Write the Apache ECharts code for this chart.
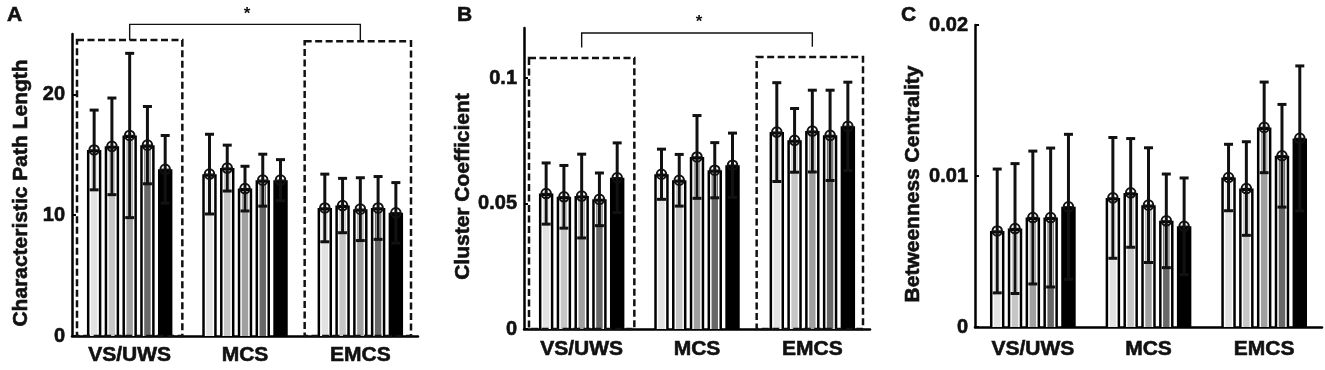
<!DOCTYPE html>
<html><head><meta charset="utf-8">
<script src="https://cdn.jsdelivr.net/npm/echarts@6/dist/echarts.min.js"></script>
<style>html,body{margin:0;padding:0;background:#fff}#c{width:1325px;height:370px}</style>
</head><body><div id="c"></div>
<script>
const categories = ['VS/UWS', 'MCS', 'EMCS'];
const barColors = ['#e2e2e2', '#c6c6c6', '#a0a0a0', '#686868', '#000000'];

// Panel A: Characteristic Path Length (one array per bar shade, values per category)
const A_mean = [[15.4, 13.4, 10.6], [15.7, 13.9, 10.8], [16.6, 12.2, 10.5], [15.8, 12.9, 10.6], [13.8, 12.9, 10.2]];
const A_sd   = [[3.3, 3.3, 2.8], [4.0, 1.9, 2.25], [6.8, 1.85, 2.6], [3.2, 2.15, 2.6], [2.8, 1.7, 2.5]];
// Panel B: Cluster Coefficient
const B_mean = [[0.054, 0.0617, 0.0785], [0.0527, 0.0593, 0.0752], [0.053, 0.0686, 0.0789], [0.0517, 0.0633, 0.0772], [0.0603, 0.0653, 0.0808]];
const B_sd   = [[0.0122, 0.010, 0.0197], [0.0125, 0.0103, 0.0127], [0.0167, 0.0165, 0.0163], [0.0105, 0.011, 0.018], [0.0139, 0.0128, 0.0176]];
// Panel C: Betweenness Centrality
const C_mean = [[0.00636, 0.00855, 0.0099], [0.00652, 0.00888, 0.00917], [0.00725, 0.00807, 0.01322], [0.00725, 0.00703, 0.01134], [0.00796, 0.00667, 0.01249]];
const C_sd   = [[0.0041, 0.0040, 0.0022], [0.0043, 0.0036, 0.0031], [0.0044, 0.0038, 0.003], [0.0046, 0.0031, 0.0034], [0.0048, 0.0032, 0.0048]];

const A_ticks = [0, 10, 20];
const B_ticks = [0, 0.05, 0.1];
const C_ticks = [0, 0.01, 0.02];

// significance annotations: [leftCat, rightCat, boxTopLeft, boxTopRight, bracketY, legBottomLeft, legBottomRight, starY]
const A_sig = [0, 2, 24.5, 24.4, 25.8, 24.5, 24.4, 26.6];
const B_sig = [0, 2, 0.108, 0.1084, 0.118, 0.1122, 0.1125, 0.1222];

const FONT = "'Liberation Sans', Arial, Helvetica, sans-serif";
const heavy = { textBorderColor: '#111', textBorderWidth: 0.6 };

const panels = [
  { grid: { left: 72, top: 34, width: 346, height: 302 }, max: 25, ticks: A_ticks, mean: A_mean, sd: A_sd, name: 'Characteristic Path Length', nameGap: 40, sig: A_sig, labelMargin: 9 },
  { grid: { left: 524, top: 28, width: 346, height: 301 }, max: 0.12, ticks: B_ticks, mean: B_mean, sd: B_sd, name: 'Cluster Coefficient', nameGap: 48, sig: B_sig, labelMargin: 10 },
  { grid: { left: 975, top: 25, width: 347, height: 302 }, max: 0.02, ticks: C_ticks, mean: C_mean, sd: C_sd, name: 'Betweenness Centrality', nameGap: 51, sig: null, labelMargin: 12 }
];

function barRenderer(k) {
  return function (params, api) {
    const cat = api.value(0), m = api.value(1), s = api.value(2);
    const band = api.size([1, 0])[0];
    const slot = band * 0.154, w = band * 0.125;
    const base = api.coord([cat, 0]);
    const cx = base[0] + (k - 2) * slot;
    const y0 = base[1];
    const yM = api.coord([cat, m])[1];
    const yLo = api.coord([cat, m - s])[1];
    const yHi = api.coord([cat, m + s])[1];
    const x0 = cx - w / 2;
    const ch = [];
    ch.push({ type: 'rect', shape: { x: x0, y: yM, width: w, height: y0 - yM }, style: { fill: '#000' } });
    ch.push({ type: 'rect', shape: { x: x0 + 2.5, y: yM + 2.5, width: w - 5, height: y0 - yM - 2.5 }, style: { fill: k === 4 ? '#000' : '#fff' } });
    ch.push({ type: 'rect', shape: { x: x0 + 4, y: yM + 4, width: w - 8, height: y0 - yM - 4 }, style: { fill: barColors[k] } });
    if (k < 4 && yLo > yM + 4) {
      ch.push({ type: 'rect', shape: { x: x0 + 5.2, y: yM + 4, width: w - 10.4, height: yLo - yM - 4 }, style: { fill: '#fff' } });
    }
    const ln = { stroke: '#111', lineWidth: 3 };
    ch.push({ type: 'line', shape: { x1: cx, y1: yHi, x2: cx, y2: yLo }, style: ln });
    ch.push({ type: 'line', shape: { x1: cx - 4.5, y1: yHi, x2: cx + 4.5, y2: yHi }, style: ln });
    ch.push({ type: 'line', shape: { x1: cx - 4.5, y1: yLo, x2: cx + 4.5, y2: yLo }, style: ln });
    ch.push({ type: 'circle', shape: { cx: cx, cy: yM, r: 4.8 }, style: { fill: 'none', stroke: '#111', lineWidth: 2 } });
    ch.push({ type: 'line', shape: { x1: cx - 4.8, y1: yM, x2: cx + 4.8, y2: yM }, style: { stroke: '#111', lineWidth: 1.4 } });
    return { type: 'group', children: ch };
  };
}

function sigRenderer(params, api) {
  const c1 = api.value(0), c2 = api.value(1);
  const band = api.size([1, 0])[0];
  const b0 = api.coord([c1, 0]), b2 = api.coord([c2, 0]);
  const t1 = api.coord([c1, api.value(2)])[1], t2 = api.coord([c2, api.value(3)])[1];
  const yb = api.coord([c1, api.value(4)])[1];
  const l1 = api.coord([c1, api.value(5)])[1], l2 = api.coord([c2, api.value(6)])[1];
  const ys = api.coord([c1, api.value(7)])[1];
  const dash = { stroke: '#111', lineWidth: 2.5, lineDash: [7, 3.5], fill: 'none' };
  const ch = [
    { type: 'rect', shape: { x: b0[0] - band / 2 + 5, y: t1, width: band - 10, height: b0[1] - t1 }, style: dash },
    { type: 'rect', shape: { x: b2[0] - band / 2 + 2, y: t2, width: band - 9, height: b2[1] - t2 }, style: dash },
    { type: 'polyline', shape: { points: [[b0[0], l1], [b0[0], yb], [b2[0], yb], [b2[0], l2]] }, style: { stroke: '#111', lineWidth: 1.4, fill: 'none' } },
    { type: 'text', x: (b0[0] + b2[0]) / 2 + 2, y: ys, style: { text: '*', fill: '#111', font: 'bold 17px ' + FONT, align: 'center', verticalAlign: 'middle' } }
  ];
  return { type: 'group', children: ch };
}

const grid = [], xAxis = [], yAxis = [], series = [];
panels.forEach((p, i) => {
  grid.push(p.grid);
  xAxis.push({
    type: 'category', gridIndex: i, data: categories,
    axisLine: { lineStyle: { color: '#000', width: 2.5 } },
    axisTick: { show: false },
    axisLabel: Object.assign({ color: '#111', fontWeight: 'bold', fontSize: 21, fontFamily: FONT, margin: p.labelMargin }, heavy)
  });
  yAxis.push({
    type: 'value', gridIndex: i, min: 0, max: p.max,
    name: p.name, nameLocation: 'middle', nameGap: p.nameGap,
    nameTextStyle: Object.assign({ color: '#111', fontWeight: 'bold', fontSize: 21, fontFamily: FONT, padding: [0, 16, 0, 0] }, heavy),
    axisLine: { show: true, lineStyle: { color: '#000', width: 2.5 } },
    axisTick: { show: true, inside: true, length: 4, lineStyle: { color: '#000', width: 2 }, customValues: p.ticks },
    axisLabel: Object.assign({ color: '#111', fontWeight: 'bold', fontSize: 20, fontFamily: FONT, margin: 7, customValues: p.ticks }, heavy),
    splitLine: { show: false }
  });
  for (let k = 0; k < 5; k++) {
    series.push({
      type: 'custom', xAxisIndex: i, yAxisIndex: i, z: 3,
      renderItem: barRenderer(k),
      encode: { x: 0, y: 1 },
      data: categories.map((c, ci) => [ci, p.mean[k][ci], p.sd[k][ci]])
    });
  }
  if (p.sig) {
    series.push({
      type: 'custom', xAxisIndex: i, yAxisIndex: i, z: 4, clip: false,
      renderItem: sigRenderer,
      encode: { x: 0, y: 2 },
      data: [p.sig]
    });
  }
});

const titleStyle = Object.assign({ fontSize: 21, fontWeight: 'bold', color: '#111', fontFamily: FONT }, heavy);
const chart = echarts.init(document.getElementById('c'));
chart.setOption({
  backgroundColor: '#fff',
  animation: false,
  title: [
    { text: 'A', left: 2, top: 0, textStyle: titleStyle },
    { text: 'B', left: 452, top: 0, textStyle: titleStyle },
    { text: 'C', left: 896, top: 0, textStyle: titleStyle }
  ],
  grid, xAxis, yAxis, series
});
</script></body></html>
